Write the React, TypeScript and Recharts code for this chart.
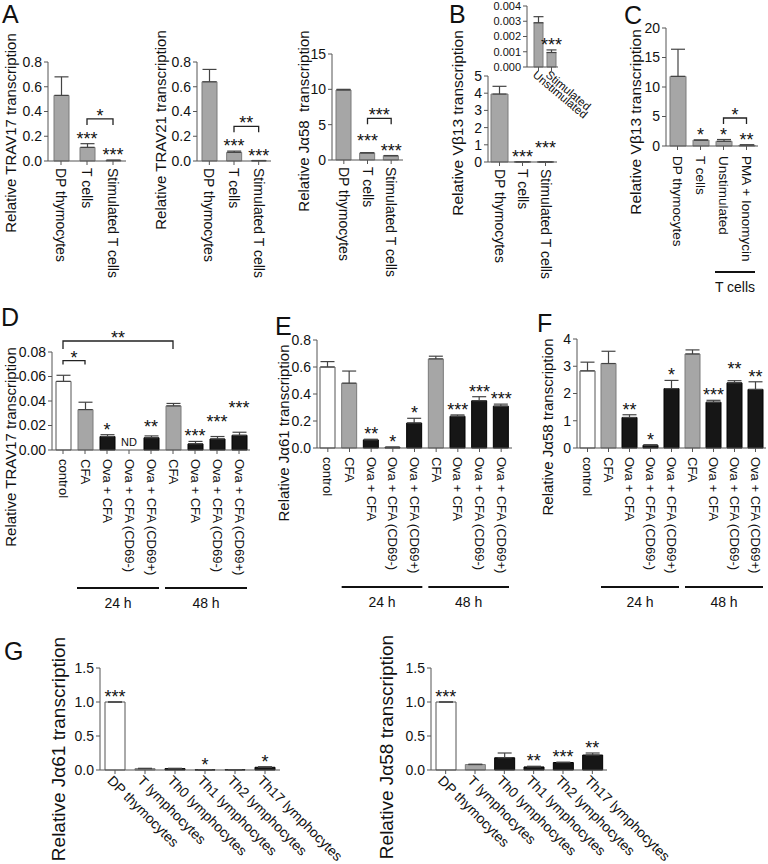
import React from 'react';
import { ComposedChart, Bar, Line, XAxis, YAxis, ErrorBar, Cell, LabelList, ReferenceLine, ReferenceArea } from 'recharts';

const FONT = '"Liberation Sans", Arial, Helvetica, sans-serif';
const INK = '#111';
const AXIS = '#555';

// ---- A ----
const catsA = ['DP thymocytes', 'T cells', 'Stimulated T cells'];
const kindsA = ['g', 'g', 'g'];
const trav17A = [0.53, 0.11, 0.005];
const trav17AErr = [0.15, 0.03, 0.002];
const trav17ASig = ['', '***', '***'];
const trav21A = [0.64, 0.07, 0.003];
const trav21AErr = [0.1, 0.01, 0.001];
const trav21ASig = ['', '***', '***'];
const ja58A = [9.9, 1.0, 0.6];
const ja58AErr = [0.1, 0.03, 0.03];
const ja58ASig = ['', '***', '***'];
const ja58ASigAt = [null, 2.0, null];

// ---- B ----
const vb13B = [3.95, 0.01, 0.005];
const vb13BErr = [0.45, 0, 0];
const vb13BSig = ['', '***', '***'];
const vb13BSigAt = [null, null, 0.55];
const catsInset = ['Unstimulated', 'Stimulated'];
const vb13Inset = [0.0029, 0.00095];
const vb13InsetErr = [0.0004, 0.00017];
const vb13InsetSig = ['', '***'];

// ---- C ----
const catsC = ['DP thymocytes', 'T cells', 'Unstimulated', 'PMA + Ionomycin'];
const kindsC = ['g', 'g', 'g', 'g'];
const vb13C = [11.8, 1.0, 0.8, 0.15];
const vb13CErr = [4.6, 0, 0.3, 0.05];
const vb13CSig = ['', '*', '*', '**'];

// ---- D, E, F ----
const catsTime = ['control', 'CFA', 'Ova + CFA', 'Ova + CFA (CD69-)', 'Ova + CFA (CD69+)', 'CFA', 'Ova + CFA', 'Ova + CFA (CD69-)', 'Ova + CFA (CD69+)'];
const kindsTime = ['w', 'g', 'k', 'k', 'k', 'g', 'k', 'k', 'k'];
const trav17D = [0.056, 0.033, 0.011, 0, 0.010, 0.036, 0.005, 0.009, 0.012];
const trav17DErr = [0.005, 0.006, 0.0015, 0, 0.0015, 0.002, 0.002, 0.002, 0.0025];
const trav17DSig = ['', '', '*', 'ND', '**', '', '***', '***', '***'];
const trav17DSigAt = [null, null, null, null, 0.0145, null, null, 0.019, 0.030];
const ja61E = [0.60, 0.48, 0.06, 0.005, 0.185, 0.66, 0.235, 0.35, 0.31];
const ja61EErr = [0.04, 0.09, 0.005, 0.002, 0.035, 0.02, 0.01, 0.03, 0.015];
const ja61ESig = ['', '', '**', '*', '*', '', '***', '***', '***'];
const ja58F = [2.83, 3.1, 1.12, 0.1, 2.18, 3.45, 1.68, 2.39, 2.15];
const ja58FErr = [0.32, 0.45, 0.1, 0.02, 0.3, 0.15, 0.07, 0.08, 0.28];
const ja58FSig = ['', '', '**', '*', '*', '', '***', '**', '**'];
const ja58FSigAt = [null, null, null, null, null, null, null, 2.7, null];

// ---- G ----
const catsG = ['DP thymocytes', 'T lymphocytes', 'Th0 lymphocytes', 'Th1 lymphocytes', 'Th2 lymphocytes', 'Th17 lymphocytes'];
const kindsG = ['w', 'g', 'k', 'k', 'k', 'k'];
const ja61G = [1.0, 0.02, 0.02, 0.003, 0.005, 0.04];
const ja61GErr = [0, 0.005, 0.005, 0.001, 0.001, 0.008];
const ja61GSig = ['***', '', '', '*', '', '*'];
const ja58G = [1.0, 0.08, 0.18, 0.045, 0.11, 0.22];
const ja58GErr = [0, 0.005, 0.07, 0.01, 0.005, 0.03];
const ja58GSig = ['***', '', '', '**', '***', '**'];

const FILL: Record<string, string> = { g: '#a6a6a6', k: '#161616', w: '#ffffff' };
const EDGE: Record<string, string> = { g: '#7a7a7a', k: '#000000', w: '#555555' };

type Row = { id: string; name: string; v: number; eb: number[]; s: number; sig: string; k: string };

function makeRows(names: string[], vals: number[], errs: number[], sigs: string[], kinds: string[], sigAt?: (number | null)[]): Row[] {
  return names.map((name, i) => ({
    id: `c${i}`,
    name,
    v: vals[i],
    eb: [0, errs[i]],
    s: sigAt && sigAt[i] != null ? (sigAt[i] as number) : vals[i] + errs[i],
    sig: sigs[i],
    k: kinds[i],
  }));
}

type Bracket = { from: number; to: number; y: number; sig: string; tick?: number };
type Group = { from: number; to: number; label: string; drop: number };
type PanelCfg = {
  rows: Row[];
  box: number[]; // plot left, top, right, bottom on the page
  max: number;
  ticks: number[];
  dec: number;
  barSize: number;
  tickFont?: number;
  catFont: number;
  angle: number;
  catDx?: number;
  catDy?: number;
  brackets?: Bracket[];
  groups?: Group[];
  padLeft?: number;
  capW?: number;
};

const starLabel = (p: any) => {
  const vb = p.viewBox || p;
  const x = vb.x + (vb.width || 0) / 2;
  const y = vb.y;
  if (!p.value) return null;
  if (p.value === 'ND') {
    return <text x={x} y={y - 4} textAnchor="middle" fontSize={11} fill={INK} fontFamily={FONT}>ND</text>;
  }
  return <text x={x} y={y + 1} textAnchor="middle" fontSize={18} fill={INK} fontFamily={FONT}>{p.value}</text>;
};

const bracketShape = (b: Bracket) => (p: any) => {
  const t = b.tick ?? 6;
  return (
    <g>
      <path d={`M${p.x1},${p.y1 + t}V${p.y1}H${p.x2}V${p.y1 + t}`} fill="none" stroke="#222" strokeWidth={1.3} />
      <text x={(p.x1 + p.x2) / 2} y={p.y1 + 3} textAnchor="middle" fontSize={18} fill={INK} fontFamily={FONT}>{b.sig}</text>
    </g>
  );
};

const groupShape = (g: Group) => (p: any) => {
  const ly = p.y + p.height + g.drop;
  return (
    <g>
      <line x1={p.x + 3} x2={p.x + p.width - 3} y1={ly} y2={ly} stroke="#111" strokeWidth={2} />
      <text x={p.x + p.width / 2} y={ly + 20} textAnchor="middle" fontSize={14} fill={INK} fontFamily={FONT}>{g.label}</text>
    </g>
  );
};

function Panel({ cfg }: { cfg: PanelCfg }) {
  const [l, t, r, b] = cfg.box;
  const yw = 30;
  const xh = 40;
  const margin = { left: l - yw, top: t, right: 768 - r, bottom: 864 - b - xh };
  const catTick = (p: any) => {
    const row = cfg.rows.find((d) => d.id === p.payload.value);
    const x = p.x + (cfg.catDx ?? 0);
    const y = p.y + (cfg.catDy ?? 0);
    return (
      <text x={x} y={y} transform={`rotate(${cfg.angle} ${x} ${y})`} textAnchor="start" dominantBaseline="central"
        fontSize={cfg.catFont} fill={INK} fontFamily={FONT}>
        {row ? row.name : ''}
      </text>
    );
  };
  return (
    <div style={{ position: 'absolute', left: 0, top: 0 }}>
      <ComposedChart width={768} height={864} data={cfg.rows} margin={margin}>
        <XAxis dataKey="id" height={xh} interval={0} tickSize={4} axisLine={{ stroke: AXIS }} tickLine={{ stroke: AXIS }}
          tick={catTick} padding={{ left: cfg.padLeft ?? 0, right: 0 }} />
        <YAxis width={yw} domain={[0, cfg.max]} ticks={cfg.ticks} interval={0} tickSize={4}
          axisLine={{ stroke: AXIS }} tickLine={{ stroke: AXIS }}
          tick={{ fontSize: cfg.tickFont ?? 14, fill: INK, fontFamily: FONT }}
          tickFormatter={(v: number) => v.toFixed(cfg.dec)} />
        <Bar dataKey="v" barSize={cfg.barSize} isAnimationActive={false}>
          {cfg.rows.map((d, i) => (
            <Cell key={i} fill={FILL[d.k]} stroke={EDGE[d.k]} strokeWidth={1} />
          ))}
          <ErrorBar dataKey="eb" direction="y" width={cfg.capW ?? 7} stroke="#444" strokeWidth={1.2} isAnimationActive={false} />
        </Bar>
        <Line dataKey="s" stroke="none" dot={false} activeDot={false} isAnimationActive={false} legendType="none">
          <LabelList dataKey="sig" content={starLabel} />
        </Line>
        {(cfg.brackets || []).map((bk, i) => (
          <ReferenceLine key={`b${i}`} ifOverflow="visible"
            segment={[{ x: `c${bk.from}`, y: bk.y }, { x: `c${bk.to}`, y: bk.y }]}
            shape={bracketShape(bk)} />
        ))}
        {(cfg.groups || []).map((g, i) => (
          <ReferenceArea key={`g${i}`} x1={`c${g.from}`} x2={`c${g.to}`} ifOverflow="visible" shape={groupShape(g)} />
        ))}
      </ComposedChart>
    </div>
  );
}

const panels: PanelCfg[] = [
  {
    rows: makeRows(catsA, trav17A, trav17AErr, trav17ASig, kindsA),
    box: [48, 62, 126, 161], max: 0.8, ticks: [0, 0.2, 0.4, 0.6, 0.8], dec: 1, barSize: 15,
    catFont: 14, angle: 90, catDy: 1,
    brackets: [{ from: 1, to: 2, y: 0.34, sig: '*' }],
  },
  {
    rows: makeRows(catsA, trav21A, trav21AErr, trav21ASig, kindsA),
    box: [197, 62, 271, 161], max: 0.8, ticks: [0, 0.2, 0.4, 0.6, 0.8], dec: 1, barSize: 15,
    catFont: 14, angle: 90, catDy: 1,
    brackets: [{ from: 1, to: 2, y: 0.28, sig: '**' }],
  },
  {
    rows: makeRows(catsA, ja58A, ja58AErr, ja58ASig, kindsA, ja58ASigAt),
    box: [332, 54, 403, 160], max: 15, ticks: [0, 5, 10, 15], dec: 0, barSize: 15,
    catFont: 14, angle: 90, catDy: 1,
    brackets: [{ from: 1, to: 2, y: 5.9, sig: '***' }],
  },
  {
    rows: makeRows(catsA, vb13B, vb13BErr, vb13BSig, kindsA, vb13BSigAt),
    box: [488, 76, 557, 162], max: 5, ticks: [0, 1, 2, 3, 4, 5], dec: 0, barSize: 17,
    catFont: 14, angle: 90, catDy: 1,
  },
  {
    rows: makeRows(catsInset, vb13Inset, vb13InsetErr, vb13InsetSig, ['g', 'g']),
    box: [527, 6, 558, 67], max: 0.004, ticks: [0, 0.001, 0.002, 0.003, 0.004], dec: 3, barSize: 9,
    tickFont: 11, catFont: 11.5, angle: 40, catDx: -4, catDy: 0, padLeft: 5, capW: 5,
  },
  {
    rows: makeRows(catsC, vb13C, vb13CErr, vb13CSig, kindsC),
    box: [666, 28, 758, 146], max: 20, ticks: [0, 5, 10, 15, 20], dec: 0, barSize: 16,
    catFont: 13.5, angle: 90, catDy: 4,
    brackets: [{ from: 2, to: 3, y: 4.75, sig: '*' }],
    groups: [{ from: 2, to: 3, label: 'T cells', drop: 126 }],
  },
  {
    rows: makeRows(catsTime, trav17D, trav17DErr, trav17DSig, kindsTime, trav17DSigAt),
    box: [52, 352, 250, 450], max: 0.08, ticks: [0, 0.02, 0.04, 0.06, 0.08], dec: 2, barSize: 15,
    catFont: 13, angle: 90, catDy: 3,
    brackets: [
      { from: 0, to: 5, y: 0.089, sig: '**', tick: 8 },
      { from: 0, to: 1, y: 0.073, sig: '*', tick: 4 },
    ],
    groups: [
      { from: 1, to: 4, label: '24 h', drop: 138 },
      { from: 5, to: 8, label: '48 h', drop: 138 },
    ],
  },
  {
    rows: makeRows(catsTime, ja61E, ja61EErr, ja61ESig, kindsTime),
    box: [317, 340, 512, 448], max: 0.8, ticks: [0, 0.2, 0.4, 0.6, 0.8], dec: 1, barSize: 15,
    catFont: 13, angle: 90, catDy: 3,
    groups: [
      { from: 1, to: 4, label: '24 h', drop: 139 },
      { from: 5, to: 8, label: '48 h', drop: 139 },
    ],
  },
  {
    rows: makeRows(catsTime, ja58F, ja58FErr, ja58FSig, kindsTime, ja58FSigAt),
    box: [577, 339, 766, 448], max: 4, ticks: [0, 1, 2, 3, 4], dec: 0, barSize: 15,
    catFont: 13, angle: 90, catDy: 3,
    groups: [
      { from: 1, to: 4, label: '24 h', drop: 139 },
      { from: 5, to: 8, label: '48 h', drop: 139 },
    ],
  },
  {
    rows: makeRows(catsG, ja61G, ja61GErr, ja61GSig, kindsG),
    box: [100, 668, 280, 770], max: 1.5, ticks: [0, 0.5, 1, 1.5], dec: 1, barSize: 20,
    catFont: 14, angle: 45, catDx: -5, catDy: 2,
  },
  {
    rows: makeRows(catsG, ja58G, ja58GErr, ja58GSig, kindsG),
    box: [431, 668, 607, 770], max: 1.5, ticks: [0, 0.5, 1, 1.5], dec: 1, barSize: 20,
    catFont: 14, angle: 45, catDx: -5, catDy: 2,
  },
];

const titles = [
  { x: 10, y: 133, f: 15, t: 'Relative TRAV17 transcription' },
  { x: 160, y: 130, f: 15, t: 'Relative TRAV21 transcription' },
  { x: 303, y: 121, f: 15, t: 'Relative J\u03b158  transcription' },
  { x: 457, y: 123, f: 15.5, t: 'Relative V\u03b213 transcription' },
  { x: 635, y: 122, f: 15.5, t: 'Relative V\u03b213 transcription' },
  { x: 10, y: 447, f: 15, t: 'Relative TRAV17 transcription' },
  { x: 283, y: 433, f: 15, t: 'Relative J\u03b161 transcription' },
  { x: 547, y: 427, f: 15, t: 'Relative J\u03b158 transcription' },
  { x: 58, y: 749, f: 19, t: 'Relative J\u03b161 transcription' },
  { x: 386, y: 747, f: 19, t: 'Relative J\u03b158 transcription' },
];

const letters = [
  { x: 2, y: 23, t: 'A' },
  { x: 449, y: 23, t: 'B' },
  { x: 624, y: 24, t: 'C' },
  { x: 1, y: 326, t: 'D' },
  { x: 275, y: 335, t: 'E' },
  { x: 537, y: 332, t: 'F' },
  { x: 4, y: 660, t: 'G' },
];

export default function App() {
  return (
    <div style={{ position: 'absolute', left: 0, top: 0, width: 768, height: 864, background: '#fff', fontFamily: FONT, overflow: 'hidden' }}>
      {panels.map((cfg, i) => (
        <Panel key={i} cfg={cfg} />
      ))}
      <svg width={768} height={864} style={{ position: 'absolute', left: 0, top: 0, pointerEvents: 'none' }}>
        {titles.map((d, i) => (
          <text key={i} x={d.x} y={d.y} transform={`rotate(-90 ${d.x} ${d.y})`} textAnchor="middle" dominantBaseline="central"
            fontSize={d.f} fill={INK} fontFamily={FONT} xmlSpace="preserve">
            {d.t}
          </text>
        ))}
        {letters.map((d, i) => (
          <text key={i} x={d.x} y={d.y} fontSize={25} fill={INK} fontFamily={FONT}>{d.t}</text>
        ))}
      </svg>
    </div>
  );
}
